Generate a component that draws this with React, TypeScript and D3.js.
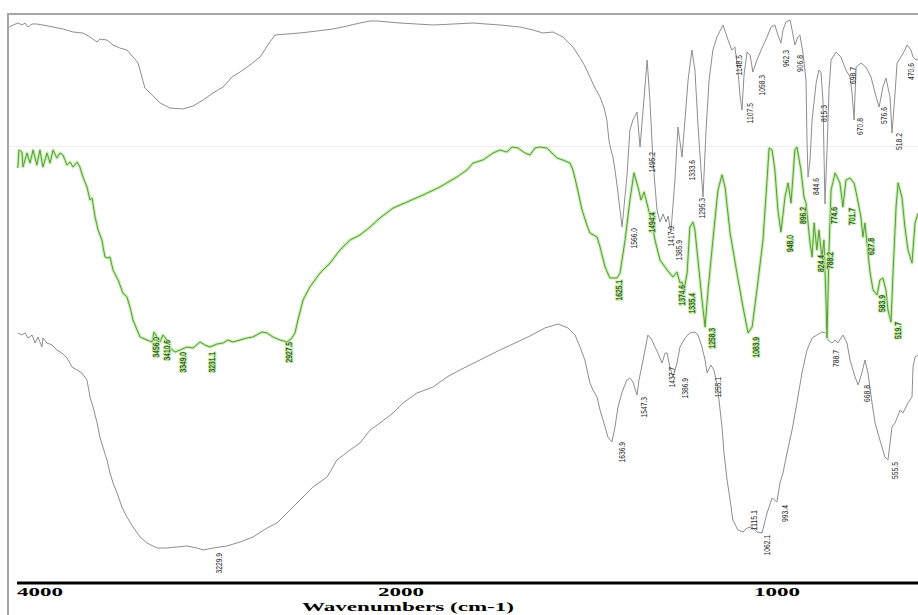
import React from "react";
import * as d3 from "d3";

// [wavenumber (cm-1), transmittance (arbitrary units, offset per spectrum)]
const topSpectrum: [number, number][] = [
  [4033, 556], [4017, 558], [3998, 560], [3982, 558], [3970, 560], [3958, 556], [3942, 559], [3923, 559],
  [3899, 558], [3859, 556], [3820, 554], [3780, 551], [3741, 550], [3713, 546], [3685, 541], [3674, 544],
  [3646, 543], [3622, 538], [3595, 535], [3567, 533], [3543, 526], [3523, 520], [3508, 506], [3496, 495],
  [3468, 488], [3436, 480], [3397, 475], [3346, 474], [3306, 477], [3266, 483], [3227, 490], [3187, 496],
  [3152, 506], [3120, 511], [3081, 518], [3041, 526], [3010, 538], [2982, 548], [2934, 549], [2883, 550],
  [2816, 552], [2753, 554], [2697, 557], [2646, 560], [2606, 562], [2579, 562], [2488, 560], [2357, 558],
  [2199, 560], [2093, 558], [2013, 556], [1962, 553], [1923, 550], [1883, 551], [1844, 546], [1804, 536],
  [1776, 525], [1757, 517], [1737, 506], [1717, 495], [1697, 486], [1681, 475], [1670, 463], [1662, 443],
  [1654, 433], [1646, 426], [1638, 413], [1630, 398], [1618, 373], [1610, 356], [1591, 406], [1579, 453],
  [1567, 463], [1551, 471], [1539, 436], [1527, 473], [1511, 523], [1500, 483], [1488, 423], [1472, 373],
  [1460, 361], [1448, 369], [1436, 361], [1428, 367], [1417, 351], [1401, 403], [1389, 456], [1373, 426],
  [1349, 503], [1334, 533], [1322, 513], [1310, 458], [1298, 413], [1290, 386], [1278, 453], [1266, 503],
  [1251, 533], [1235, 546], [1211, 558], [1191, 543], [1176, 533], [1164, 536], [1152, 513], [1144, 488],
  [1136, 473], [1128, 508], [1116, 531], [1104, 528], [1093, 511], [1077, 523], [1057, 535], [1037, 546],
  [1021, 556], [1006, 558], [994, 548], [982, 540], [974, 553], [962, 561], [946, 563], [938, 553],
  [927, 538], [915, 546], [907, 548], [895, 530], [883, 503], [879, 443], [875, 406], [867, 423],
  [859, 463], [843, 500], [832, 513], [824, 511], [816, 483], [808, 379], [800, 433], [792, 493],
  [784, 523], [764, 531], [745, 526], [725, 513], [709, 506], [701, 490], [693, 463], [685, 516],
  [666, 520], [646, 516], [626, 506], [610, 490], [594, 476], [579, 496], [567, 505], [551, 486],
  [543, 450], [531, 490], [523, 520], [508, 526], [492, 533], [484, 538], [468, 533], [460, 526],
  [448, 523], [432, 525],
];

const middleSpectrum: [number, number][] = [
  [3998, 415], [3994, 433], [3982, 431], [3978, 416], [3962, 430], [3950, 420], [3938, 433], [3923, 418],
  [3911, 433], [3899, 416], [3883, 430], [3871, 420], [3859, 433], [3844, 425], [3832, 430], [3820, 428],
  [3804, 418], [3792, 421], [3780, 416], [3764, 421], [3753, 416], [3741, 406], [3725, 396], [3713, 383],
  [3705, 385], [3693, 366], [3681, 353], [3666, 343], [3654, 326], [3642, 325], [3634, 326], [3622, 313],
  [3602, 303], [3583, 290], [3567, 286], [3555, 276], [3543, 263], [3527, 253], [3515, 246], [3488, 243],
  [3468, 241], [3460, 251], [3448, 246], [3436, 241], [3425, 248], [3409, 243], [3397, 235], [3377, 231],
  [3357, 233], [3330, 236], [3306, 235], [3278, 241], [3259, 238], [3239, 236], [3211, 239], [3187, 240],
  [3168, 243], [3148, 241], [3120, 243], [3093, 245], [3069, 246], [3033, 251], [3013, 250], [2990, 246],
  [2962, 243], [2934, 241], [2915, 245], [2903, 250], [2891, 263], [2871, 283], [2844, 296], [2804, 310],
  [2764, 320], [2725, 333], [2685, 343], [2646, 348], [2606, 356], [2567, 365], [2515, 375], [2460, 381],
  [2397, 388], [2330, 396], [2263, 406], [2223, 413], [2199, 420], [2160, 423], [2120, 430], [2093, 433],
  [2065, 431], [2045, 436], [2021, 435], [1994, 430], [1974, 428], [1954, 435], [1934, 436], [1907, 435],
  [1887, 430], [1867, 425], [1844, 423], [1816, 420], [1804, 413], [1788, 396], [1768, 373], [1749, 358],
  [1737, 350], [1709, 346], [1697, 336], [1677, 316], [1658, 305], [1630, 305], [1618, 310], [1598, 343],
  [1579, 383], [1563, 410], [1547, 396], [1535, 383], [1523, 391], [1508, 376], [1492, 360], [1480, 343],
  [1460, 323], [1432, 313], [1409, 306], [1393, 311], [1381, 300], [1373, 301], [1365, 293], [1353, 310],
  [1342, 356], [1330, 361], [1322, 353], [1310, 323], [1294, 283], [1282, 256], [1270, 293], [1251, 343],
  [1231, 393], [1215, 408], [1203, 396], [1183, 350], [1156, 310], [1132, 276], [1112, 250], [1096, 256],
  [1077, 293], [1053, 343], [1037, 403], [1029, 435], [1017, 433], [1006, 413], [994, 373], [982, 351],
  [966, 386], [954, 400], [942, 380], [927, 433], [919, 436], [903, 413], [891, 386], [883, 380],
  [867, 340], [859, 326], [851, 360], [840, 333], [832, 353], [820, 325], [812, 343], [804, 283],
  [800, 245], [792, 333], [784, 393], [768, 410], [749, 400], [737, 376], [725, 403], [709, 405],
  [693, 400], [681, 386], [666, 366], [658, 346], [650, 360], [642, 340], [630, 311], [618, 293],
  [602, 288], [591, 303], [579, 305], [567, 293], [559, 273], [547, 261], [539, 310], [527, 376],
  [519, 400], [504, 386], [492, 356], [480, 333], [464, 320], [452, 360], [440, 370],
];

const bottomSpectrum: [number, number][] = [
  [3998, 250], [3982, 248], [3970, 250], [3958, 245], [3942, 248], [3930, 240], [3919, 246], [3903, 236],
  [3899, 245], [3883, 240], [3863, 238], [3844, 233], [3824, 230], [3804, 225], [3784, 216], [3764, 213],
  [3745, 210], [3725, 203], [3713, 186], [3701, 176], [3685, 160], [3674, 146], [3662, 136], [3646, 123],
  [3634, 110], [3622, 100], [3606, 90], [3587, 76], [3567, 66], [3543, 56], [3515, 46], [3488, 40],
  [3448, 35], [3409, 35], [3369, 36], [3330, 37], [3290, 35], [3266, 33], [3227, 35], [3172, 37],
  [3120, 41], [3069, 46], [3013, 55], [2974, 60], [2934, 70], [2883, 83], [2832, 96], [2776, 106],
  [2737, 123], [2685, 133], [2646, 140], [2606, 153], [2567, 160], [2515, 170], [2476, 180], [2421, 190],
  [2357, 196], [2302, 206], [2251, 213], [2172, 223], [2093, 233], [2033, 240], [1974, 247], [1915, 255],
  [1863, 259], [1824, 255], [1796, 248], [1776, 236], [1757, 223], [1737, 200], [1725, 193], [1709, 186],
  [1697, 173], [1677, 156], [1666, 146], [1650, 141], [1638, 156], [1626, 176], [1610, 191], [1591, 203],
  [1579, 205], [1567, 201], [1551, 188], [1543, 203], [1527, 223], [1508, 248], [1492, 243], [1480, 236],
  [1468, 230], [1452, 220], [1440, 230], [1432, 230], [1421, 216], [1409, 206], [1393, 220], [1381, 236],
  [1361, 245], [1342, 250], [1322, 251], [1310, 248], [1294, 236], [1282, 223], [1274, 210], [1259, 218],
  [1247, 213], [1235, 198], [1227, 183], [1215, 156], [1207, 130], [1195, 103], [1183, 83], [1172, 63],
  [1152, 53], [1132, 51], [1116, 55], [1096, 56], [1077, 51], [1057, 50], [1037, 70], [1017, 85],
  [998, 81], [986, 100], [974, 110], [958, 130], [938, 153], [919, 180], [899, 210], [879, 233],
  [859, 245], [840, 248], [820, 251], [804, 250], [796, 243], [780, 240], [768, 243], [757, 240],
  [737, 248], [721, 240], [709, 223], [689, 206], [677, 198], [662, 210], [650, 223], [638, 210],
  [622, 180], [610, 160], [591, 143], [571, 126], [559, 123], [543, 156], [531, 160], [511, 173],
  [500, 170], [480, 180], [464, 186], [460, 216], [452, 226], [440, 228],
];

// Peak labels: [wavenumber, transmittance at the label's upper end]
const topPeaks: [number, number][] = [
  [1566.0, 355], [1495.2, 431], [1417.0, 357], [1385.9, 343], [1333.6, 423], [1295.3, 385],
  [1148.5, 528], [1107.5, 480], [1058.3, 508], [962.3, 533], [906.8, 528], [844.6, 405],
  [815.3, 478], [698.7, 516], [670.8, 465], [576.6, 476], [518.2, 450], [470.6, 520],
];
const middlePeaks: [number, number][] = [
  [3456.0, 246], [3410.6, 243], [3349.0, 231], [3231.1, 231], [2927.5, 241], [1625.1, 303],
  [1494.4, 371], [1374.6, 298], [1335.4, 290], [1258.3, 255], [1083.9, 246], [948.0, 348],
  [896.2, 376], [824.4, 328], [788.2, 331], [774.6, 376], [701.7, 375], [627.8, 345],
  [583.9, 288], [519.7, 261],
];
const bottomPeaks: [number, number][] = [
  [3229.9, 30], [1636.9, 141], [1547.3, 186], [1437.7, 216], [1386.9, 205], [1255.1, 206],
  [1115.1, 73], [1062.1, 48], [993.4, 78], [788.7, 233], [668.8, 198], [555.5, 121],
];

const axisTicks: number[] = [4000, 2000, 1000];
const axisTitle = "Wavenumbers (cm-1)";

const W = 918;
const H = 615;

const x = d3.scaleLinear().domain([4000, 400]).range([17.4, 928.2]);
const y = d3.scaleLinear().domain([0, 570]).range([583, 13]);
// the printed axis of the original figure is not linear: 4000 / 2000 / 1000
const axisX = d3.scaleLinear().domain([4000, 2000, 1000]).range([40, 401, 777]);

const line = d3
  .line<[number, number]>()
  .x((d) => x(d[0]))
  .y((d) => y(d[1]));

const fmt = d3.format(".1f");

function Labels({
  peaks,
  dx,
  green,
}: {
  peaks: [number, number][];
  dx: number;
  green?: boolean;
}) {
  return (
    <g>
      {peaks.map(([wn, t]) => {
        const s = fmt(wn);
        const px = x(wn) + dx;
        const py = y(t);
        return (
          <text
            key={s}
            transform={`translate(${px},${py}) rotate(-90)`}
            textAnchor="end"
            dominantBaseline="central"
            fontFamily="'Liberation Sans Narrow', 'Liberation Sans', Arial, sans-serif"
            fontSize={9.5}
            textLength={s.length * 3.4}
            lengthAdjust="spacingAndGlyphs"
            fill={green ? "#16280c" : "#2a2a2a"}
            stroke={green ? "#b2e894" : "none"}
            strokeWidth={green ? 2.2 : 0}
            paintOrder="stroke"
          >
            {s}
          </text>
        );
      })}
    </g>
  );
}

export default function App() {
  return (
    <svg
      width={W}
      height={H}
      style={{ position: "absolute", left: 0, top: 0, background: "#fff" }}
    >
      <rect x={0} y={0} width={W} height={H} fill="#fff" />
      <defs>
        <clipPath id="plotClip">
          <rect x={8} y={14} width={W - 8} height={575} />
        </clipPath>
      </defs>
      {/* faint panel separator */}
      <line x1={9} x2={W} y1={146.5} y2={146.5} stroke="#efefef" strokeWidth={1} />
      {/* frame */}
      <line x1={7} x2={W} y1={14} y2={14} stroke="#a6a6a6" strokeWidth={2} />
      <line x1={8} x2={8} y1={13} y2={H} stroke="#a6a6a6" strokeWidth={2} />

      <g clipPath="url(#plotClip)">
        <path d={line(topSpectrum) ?? ""} fill="none" stroke="#8e8e8e" strokeWidth={1} />
        <path d={line(bottomSpectrum) ?? ""} fill="none" stroke="#8e8e8e" strokeWidth={1} />
        <path
          d={line(middleSpectrum) ?? ""}
          fill="none"
          stroke="#c6efb1"
          strokeWidth={3.2}
          strokeLinejoin="round"
        />
        <path
          d={line(middleSpectrum) ?? ""}
          fill="none"
          stroke="#5b9a3a"
          strokeWidth={1}
          strokeLinejoin="round"
        />
      </g>

      <Labels peaks={topPeaks} dx={0} />
      <Labels peaks={bottomPeaks} dx={6} />
      <Labels peaks={middlePeaks} dx={0} green />

      {/* x axis */}
      <line x1={17} x2={W} y1={583} y2={583} stroke="#000" strokeWidth={3} />
      {axisTicks.map((t) => (
        <text
          key={t}
          x={axisX(t)}
          y={596}
          textAnchor="middle"
          fontFamily="'Liberation Serif', 'Times New Roman', serif"
          fontWeight="bold"
          fontSize={12}
          textLength={46}
          lengthAdjust="spacingAndGlyphs"
          fill="#000"
        >
          {t}
        </text>
      ))}
      <text
        x={408}
        y={611}
        textAnchor="middle"
        fontFamily="'Liberation Serif', 'Times New Roman', serif"
        fontWeight="bold"
        fontSize={12}
        textLength={212}
        lengthAdjust="spacingAndGlyphs"
        fill="#000"
      >
        {axisTitle}
      </text>
    </svg>
  );
}
